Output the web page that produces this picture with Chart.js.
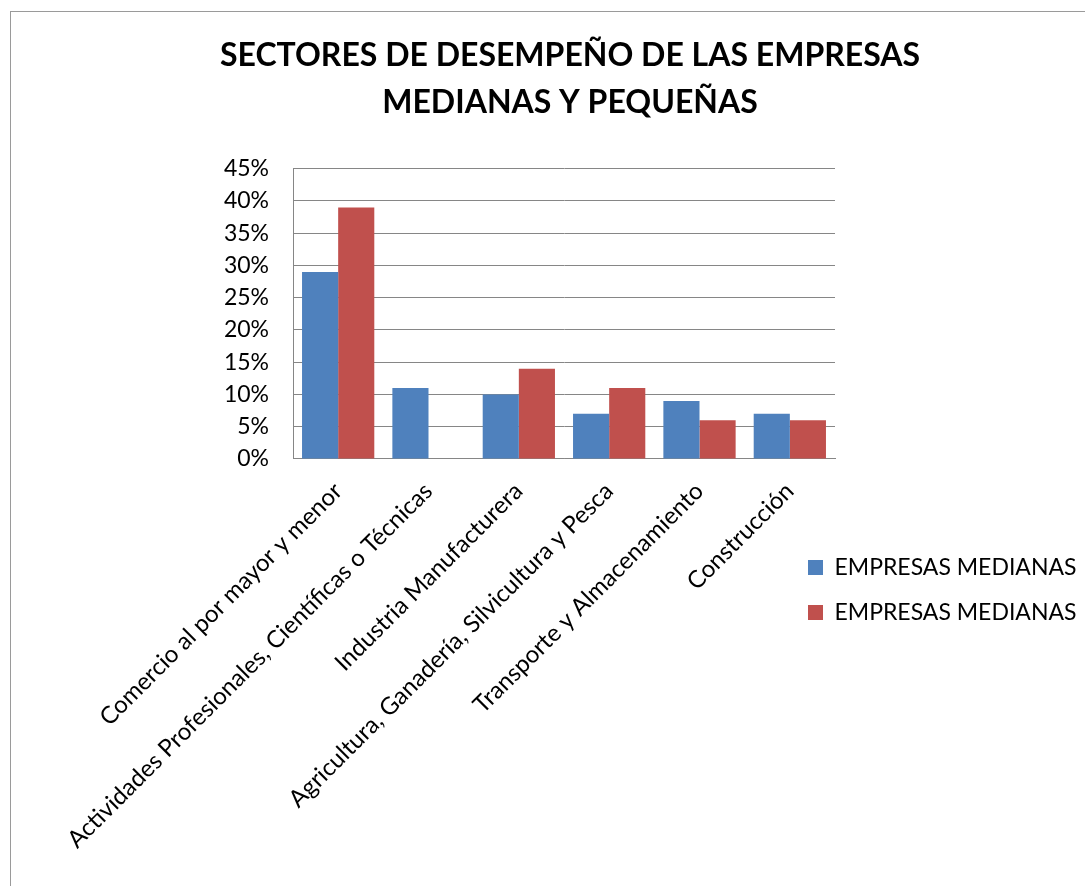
<!DOCTYPE html>
<html lang="es">

<head>
    <meta charset="UTF-8">
    <title>Sectores de desempeño</title>
    <style>
        body {
            margin: 0;
            background: #fff;
            overflow: hidden;
        }

        #marco {
            position: absolute;
            left: 10px;
            top: 11px;
            width: 1118px;
            height: 900px;
            border-left: 1px solid #9a9a9a;
            border-top: 1px solid #9a9a9a;
        }

        #marco canvas {
            display: block;
        }
    </style>
</head>

<body>
    <div id="marco">
        <canvas id="sectoresChart" width="1118" height="874"></canvas>
    </div>

    <script src="https://cdn.jsdelivr.net/npm/chart.js"></script>
    <script>
        // Datos
        const categorias = [
            'Comercio al por mayor y menor',
            'Actividades Profesionales, Científicas o Técnicas',
            'Industria Manufacturera',
            'Agricultura, Ganadería, Silvicultura y Pesca',
            'Transporte y Almacenamiento',
            'Construcción'
        ];
        const serie1 = [29, 11, 10, 7, 9, 7];
        const serie2 = [39, 0, 14, 11, 6, 6];
        const nombresSeries = ['EMPRESAS MEDIANAS', 'EMPRESAS MEDIANAS'];
        const titulo = ['SECTORES DE DESEMPEÑO DE LAS EMPRESAS', 'MEDIANAS Y PEQUEÑAS'];
        const ejeY = { min: 0, max: 45, paso: 5 };

        const fuente = 'Lato';
        const gris = '#868686';

        // mueve la leyenda debajo, a la derecha (como en Excel)
        const moverLeyenda = {
            id: 'moverLeyenda',
            afterLayout(chart) {
                const lg = chart.legend;
                if (!lg) return;
                const w = lg.width, h = lg.height;
                lg.left = 775;
                lg.top = 522;
                lg.right = lg.left + w;
                lg.bottom = lg.top + h;
            }
        };

        const ctx = document.getElementById('sectoresChart').getContext('2d');
        new Chart(ctx, {
            type: 'bar',
            data: {
                labels: categorias,
                datasets: [{
                    label: nombresSeries[0],
                    data: serie1,
                    backgroundColor: '#4F81BD',
                    yAxisID: 'y'
                }, {
                    label: nombresSeries[1],
                    data: serie2,
                    backgroundColor: '#C0504D',
                    yAxisID: 'y'
                }]
            },
            options: {
                responsive: false,
                animation: false,
                layout: {
                    padding: { left: 0, right: 0, top: 0, bottom: 22 }
                },
                datasets: {
                    bar: {
                        categoryPercentage: 0.8,
                        barPercentage: 1.0
                    }
                },
                plugins: {
                    title: {
                        display: true,
                        text: titulo,
                        color: '#000',
                        font: { family: fuente, size: 32, weight: 'bold', lineHeight: 1.48 },
                        padding: { top: 20, bottom: 42 }
                    },
                    legend: {
                        position: 'chartArea',
                        align: 'start',
                        labels: {
                            color: '#000',
                            font: { family: fuente, size: 23 },
                            boxWidth: 15,
                            boxHeight: 15,
                            padding: 22
                        }
                    },
                    tooltip: { enabled: false }
                },
                scales: {
                    x: {
                        grid: { display: false },
                        border: { display: true, color: gris },
                        ticks: {
                            color: '#000',
                            font: { family: fuente, size: 24 },
                            maxRotation: 45,
                            minRotation: 45,
                            autoSkip: false,
                            padding: 10
                        }
                    },
                    y: {
                        min: ejeY.min,
                        max: ejeY.max,
                        grid: { color: gris, drawTicks: false },
                        border: { display: true, color: gris },
                        ticks: {
                            stepSize: ejeY.paso,
                            color: '#000',
                            font: { family: fuente, size: 23 },
                            padding: 24,
                            callback: v => v + '%'
                        },
                        afterFit: s => { s.width = 282; }
                    },
                    derecha: {
                        type: 'linear',
                        position: 'right',
                        display: true,
                        grid: { display: false },
                        border: { display: false },
                        ticks: { display: false },
                        afterFit: s => { s.width = 294; }
                    }
                }
            },
            plugins: [moverLeyenda]
        });
    </script>
</body>

</html>
